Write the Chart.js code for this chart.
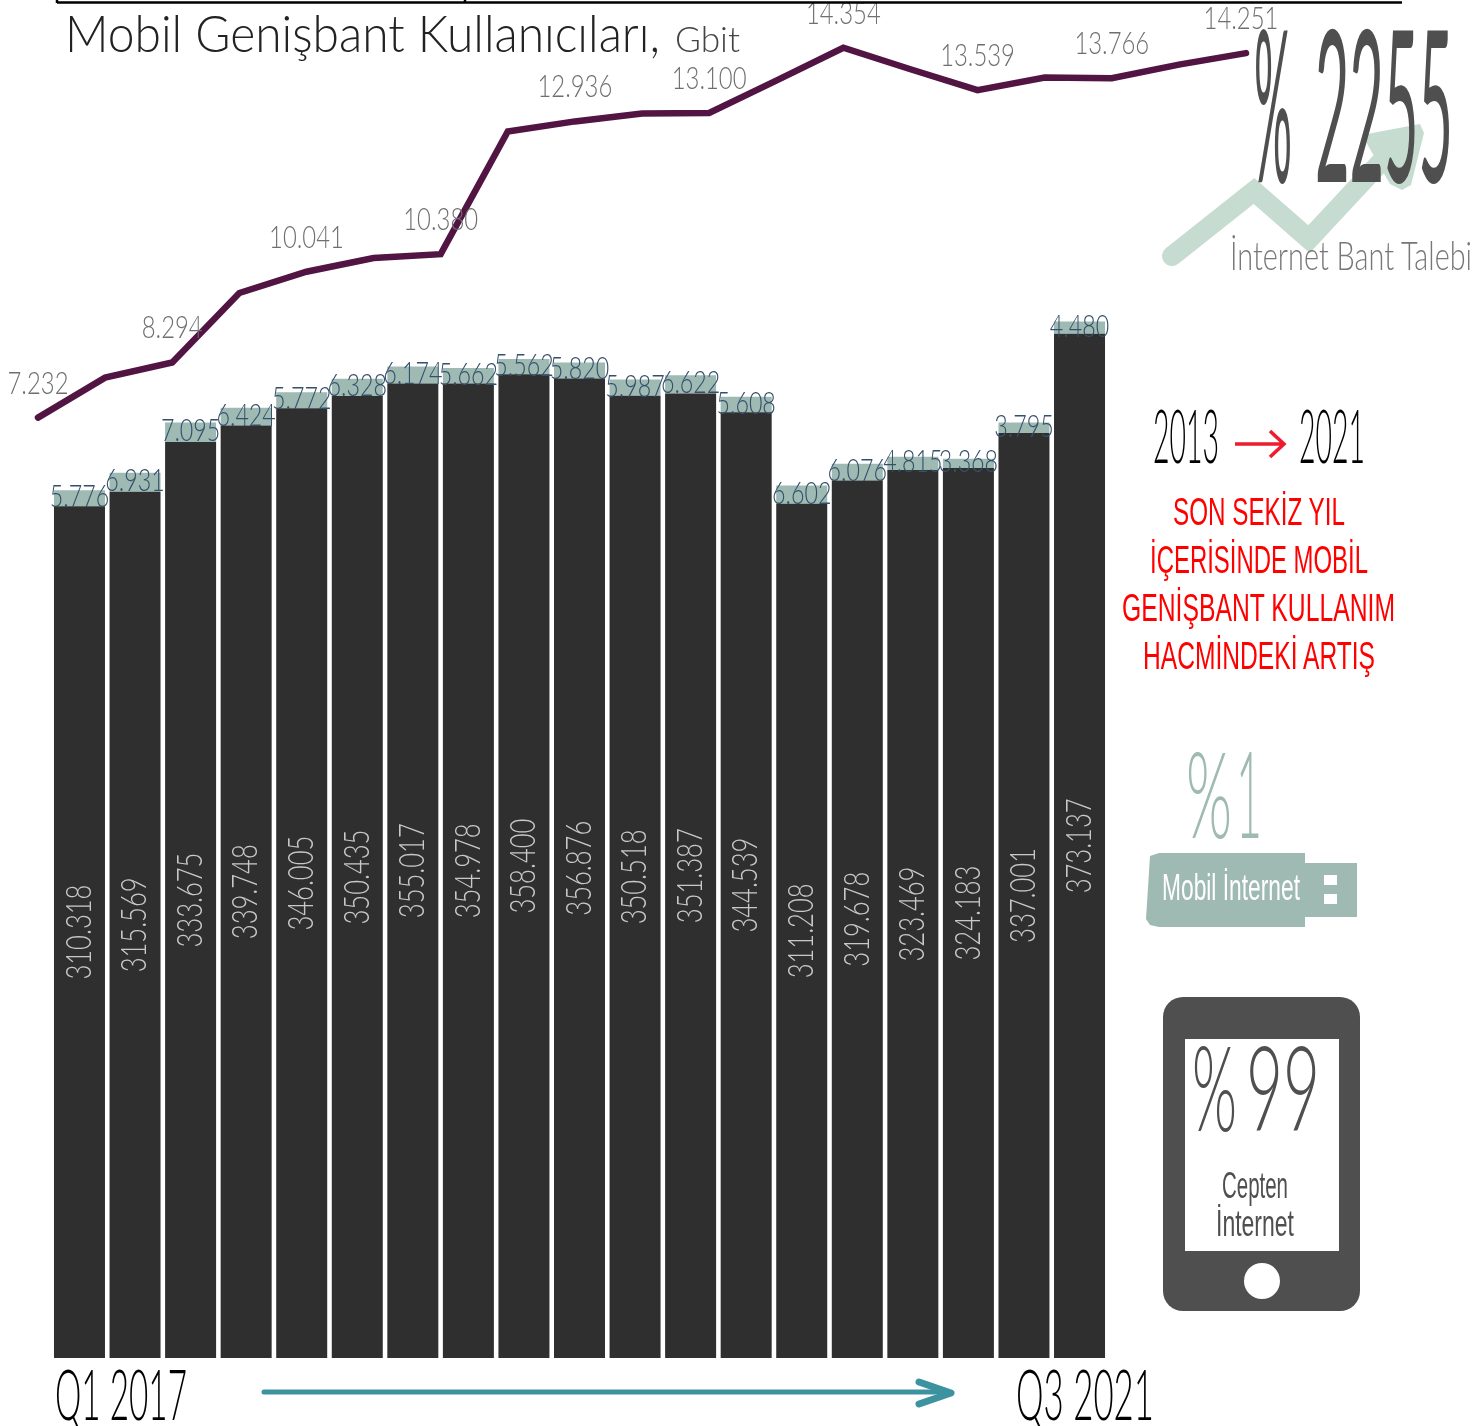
<!DOCTYPE html>
<html lang="tr">
<head>
<meta charset="utf-8">
<title>Mobil Genişbant Kullanıcıları</title>
<script src="https://cdn.jsdelivr.net/npm/chart.js@4"></script>
<style>
    html, body { margin: 0; padding: 0; background: #fff; overflow: hidden; }
    #page { position: relative; width: 1480px; height: 1426px; }
    canvas, svg { position: absolute; left: 0; top: 0; }
    svg text { font-family: 'Lato', sans-serif; font-weight: 300; }
    svg .narrow { font-family: 'Liberation Sans Narrow', sans-serif; font-weight: 400; }
    svg .regular { font-weight: 400; }
</style>
</head>
<body>
<div id="page">
    <canvas id="barChart" width="1480" height="1426"></canvas>
    <canvas id="lineChart" width="1480" height="1426"></canvas>
    <svg width="1480" height="1426" viewBox="0 0 1480 1426" xmlns="http://www.w3.org/2000/svg">
        <!-- top frame -->
        <path d="M57 3V-4M465 3V-4M57 2.5H1402" fill="none" stroke="#000" stroke-width="2.5"/>

        <!-- growth arrow behind the big number -->
        <polyline points="1172,256 1254,191 1309,239 1392,150" fill="none" stroke="#c6dcd0" stroke-width="20" stroke-linecap="round" stroke-linejoin="miter"/>
        <polygon points="1362,135 1420,124 1424,133 1411,185 1402,190 1390,184" fill="#c6dcd0"/>

        <text x="65" y="52" font-size="51" fill="#222" textLength="595" lengthAdjust="spacingAndGlyphs">Mobil Genişbant Kullanıcıları,</text>
        <text x="675" y="52" font-size="36" fill="#444" textLength="65" lengthAdjust="spacingAndGlyphs">Gbit</text>

        <text class="regular" x="1254" y="182" font-size="212" fill="#4f4f4f" textLength="38" lengthAdjust="spacingAndGlyphs">%</text>
        <text class="regular" x="1315" y="182" font-size="212" fill="#4f4f4f" textLength="138" lengthAdjust="spacingAndGlyphs">2255</text>
        <text x="1230" y="270" font-size="40" fill="#777" textLength="242" lengthAdjust="spacingAndGlyphs">İnternet Bant Talebi</text>

        <text x="1153" y="463" font-size="74" fill="#000" textLength="66" lengthAdjust="spacingAndGlyphs">2013</text>
        <path d="M1235 444H1283M1270 431L1284 444L1270 457" fill="none" stroke="#ed1c2e" stroke-width="3.5"/>
        <text x="1299" y="463" font-size="74" fill="#000" textLength="66" lengthAdjust="spacingAndGlyphs">2021</text>

        <text class="narrow" x="1173" y="525" font-size="39" fill="#f00" textLength="172" lengthAdjust="spacingAndGlyphs">SON SEKİZ YIL</text>
        <text class="narrow" x="1150" y="573" font-size="39" fill="#f00" textLength="218" lengthAdjust="spacingAndGlyphs">İÇERİSİNDE MOBİL</text>
        <text class="narrow" x="1122" y="621" font-size="39" fill="#f00" textLength="273" lengthAdjust="spacingAndGlyphs">GENİŞBANT KULLANIM</text>
        <text class="narrow" x="1143" y="669" font-size="39" fill="#f00" textLength="232" lengthAdjust="spacingAndGlyphs">HACMİNDEKİ ARTIŞ</text>

        <!-- usb stick -->
        <text x="1186" y="838" font-size="120" fill="#9fbab3" textLength="46" lengthAdjust="spacingAndGlyphs">%</text>
        <text x="1236" y="838" font-size="120" fill="#9fbab3" textLength="26" lengthAdjust="spacingAndGlyphs">1</text>
        <path d="M1150 856L1159 853H1305V863H1357V917H1305V927H1159L1150 925L1146 919Z" fill="#9fbab3"/>
        <rect x="1324" y="875" width="13" height="10" fill="#fff"/>
        <rect x="1324" y="894" width="13" height="10" fill="#fff"/>
        <text class="narrow" x="1162" y="900" font-size="37" fill="#fff" textLength="138" lengthAdjust="spacingAndGlyphs">Mobil İnternet</text>

        <!-- phone -->
        <rect x="1163" y="997" width="197" height="314" rx="20" fill="#4f4f4f"/>
        <rect x="1185" y="1039" width="154" height="212" fill="#fff"/>
        <circle cx="1262" cy="1281" r="18" fill="#fff"/>
        <text x="1192" y="1131" font-size="118" fill="#4f4f4f" textLength="45" lengthAdjust="spacingAndGlyphs">%</text>
        <text x="1246" y="1131" font-size="118" fill="#4f4f4f" textLength="74" lengthAdjust="spacingAndGlyphs">99</text>
        <text class="narrow" x="1222" y="1198" font-size="36" fill="#4f4f4f" textLength="66" lengthAdjust="spacingAndGlyphs">Cepten</text>
        <text class="narrow" x="1216" y="1236" font-size="36" fill="#4f4f4f" textLength="78" lengthAdjust="spacingAndGlyphs">İnternet</text>

        <!-- timeline -->
        <text x="55" y="1420" font-size="70" fill="#000" textLength="132" lengthAdjust="spacingAndGlyphs">Q1 2017</text>
        <line x1="264" y1="1392" x2="948" y2="1392" stroke="#3c929e" stroke-width="5" stroke-linecap="round"/>
        <path d="M919 1382L951 1393L919 1404" fill="none" stroke="#3c929e" stroke-width="7" stroke-linecap="round" stroke-linejoin="round"/>
        <text x="1016" y="1420" font-size="70" fill="#000" textLength="138" lengthAdjust="spacingAndGlyphs">Q3 2021</text>
    </svg>
</div>

<script>
const categories = [
    'Q1 2017', 'Q2 2017', 'Q3 2017', 'Q4 2017',
    'Q1 2018', 'Q2 2018', 'Q3 2018', 'Q4 2018',
    'Q1 2019', 'Q2 2019', 'Q3 2019', 'Q4 2019',
    'Q1 2020', 'Q2 2020', 'Q3 2020', 'Q4 2020',
    'Q1 2021', 'Q2 2021', 'Q3 2021'
];

const mainValues = [
    310.318, 315.569, 333.675, 339.748, 346.005, 350.435, 355.017, 354.978, 358.400, 356.876,
    350.518, 351.387, 344.539, 311.208, 319.678, 323.469, 324.183, 337.001, 373.137
];

const topValues = [
    5.776, 6.931, 7.095, 6.424, 5.772, 6.328, 6.174, 5.662, 5.562, 5.820,
    5.987, 6.622, 5.608, 6.602, 6.076, 4.815, 3.368, 3.795, 4.480
];

const lineValues = [
    7.232, 8.002, 8.294, 9.632, 10.041, 10.306, 10.380, 12.743, 12.936, 13.090,
    13.100, 13.720, 14.354, 13.940, 13.539, 13.782, 13.766, 14.030, 14.251
];

const labelFont = "'Lato', sans-serif";

function drawSquishedText(ctx, text, x, y, size, squish, color) {
    ctx.save();
    ctx.translate(x, y);
    ctx.scale(squish, 1);
    ctx.font = `300 ${size}px ${labelFont}`;
    ctx.fillStyle = color;
    ctx.textAlign = 'center';
    ctx.textBaseline = 'middle';
    ctx.fillText(text, 0, 0);
    ctx.restore();
}

const barLabelsPlugin = {
    id: 'barLabels',
    afterDatasetsDraw(chart) {
        const ctx = chart.ctx;
        chart.getDatasetMeta(0).data.forEach((bar, i) => {
            ctx.save();
            ctx.translate(bar.x, (bar.y + bar.base) / 2);
            ctx.rotate(-Math.PI / 2);
            drawSquishedText(ctx, mainValues[i].toFixed(3), 0, 0, 35, 0.73, '#c8c8c8');
            ctx.restore();
        });
        chart.getDatasetMeta(1).data.forEach((bar, i) => {
            drawSquishedText(ctx, topValues[i].toFixed(3), bar.x, (bar.y + bar.base) / 2 - 1, 31, 0.75, '#35506b');
        });
    }
};

const lineLabelsPlugin = {
    id: 'lineLabels',
    afterDatasetsDraw(chart) {
        const ctx = chart.ctx;
        chart.getDatasetMeta(0).data.forEach((point, i) => {
            if (i % 2) return;
            // last label sits a bit left of its point in the original
            const shift = i === lineValues.length - 1 ? -5 : 0;
            drawSquishedText(ctx, lineValues[i].toFixed(3), point.x + shift, point.y - 34, 31, 0.77, '#6f6f6f');
        });
    }
};

function renderBarChart() {
    new Chart(document.getElementById('barChart'), {
        type: 'bar',
        data: {
            labels: categories,
            datasets: [
                { data: mainValues, backgroundColor: '#2f2f2f', barPercentage: 0.918, categoryPercentage: 1 },
                { data: topValues, backgroundColor: '#9fbab3', barPercentage: 0.918, categoryPercentage: 1 }
            ]
        },
        options: {
            responsive: false,
            animation: false,
            layout: { padding: { left: 51.7, right: 372.7, top: 260, bottom: 68 } },
            plugins: { legend: { display: false }, tooltip: { enabled: false } },
            scales: {
                x: { stacked: true, display: false },
                y: { stacked: true, display: false, min: 0, max: 400 }
            }
        },
        plugins: [barLabelsPlugin]
    });
}

function renderLineChart() {
    new Chart(document.getElementById('lineChart'), {
        type: 'line',
        data: {
            labels: categories,
            datasets: [{
                data: lineValues,
                borderColor: '#521442',
                borderWidth: 6.5,
                borderCapStyle: 'round',
                tension: 0,
                pointRadius: 0,
                clip: false
            }]
        },
        options: {
            responsive: false,
            animation: false,
            layout: { padding: { left: 38, right: 234, top: 14.2, bottom: 996.3 } },
            plugins: { legend: { display: false }, tooltip: { enabled: false } },
            scales: {
                x: { display: false, offset: false },
                y: { display: false, min: 7, max: 15 }
            }
        },
        plugins: [lineLabelsPlugin]
    });
}

renderBarChart();
renderLineChart();
</script>
</body>
</html>
